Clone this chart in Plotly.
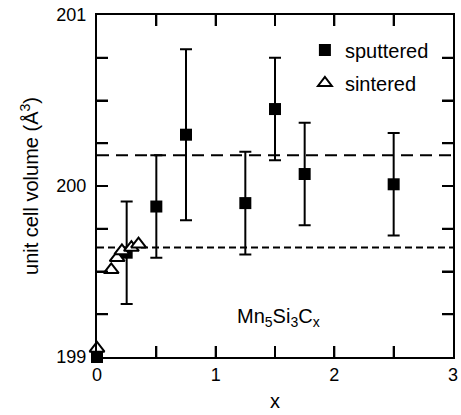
import plotly.graph_objects as go

# Data
sput_x = [0, 0.25, 0.5, 0.75, 1.25, 1.5, 1.75, 2.5]
sput_y = [199.0, 199.61, 199.88, 200.30, 199.90, 200.45, 200.07, 200.01]
sput_err = [0, 0.30, 0.30, 0.50, 0.30, 0.30, 0.30, 0.30]

sint_x = [0, 0.12, 0.17, 0.21, 0.29, 0.35]
sint_y = [199.05, 199.51, 199.58, 199.62, 199.64, 199.66]

line_long_y = 200.18
line_short_y = 199.64
x_span = [0, 3]

x_range = [0, 3]
y_range = [199, 201]
x_tickvals = [0, 0.5, 1, 1.5, 2, 2.5, 3]
x_ticktext = ["0", "", "1", "", "2", "", "3"]
y_tickvals = [199, 199.25, 199.5, 199.75, 200, 200.25, 200.5, 200.75, 201]
y_ticktext = ["199\u00a0", "", "", "", "200\u00a0", "", "", "", "201\u00a0"]

FONT = "Liberation Sans, Arial, Helvetica, sans-serif"
TICKLEN = 11

fig = go.Figure()

fig.add_trace(go.Scatter(x=x_span, y=[line_long_y] * 2, mode="lines",
                         line=dict(color="black", width=2, dash="12px,7px"),
                         showlegend=False, hoverinfo="skip"))
fig.add_trace(go.Scatter(x=x_span, y=[line_short_y] * 2, mode="lines",
                         line=dict(color="black", width=2, dash="7px,4px"),
                         showlegend=False, hoverinfo="skip"))

fig.add_trace(go.Scatter(
    x=sput_x, y=sput_y, mode="markers",
    marker=dict(symbol="square", size=12, color="black"),
    error_y=dict(type="data", array=sput_err, visible=True, color="black",
                 thickness=2, width=6),
    showlegend=False, cliponaxis=False))

fig.add_trace(go.Scatter(
    x=sint_x, y=sint_y, mode="markers",
    marker=dict(symbol="triangle-up", size=13, color="white",
                line=dict(color="black", width=2)),
    showlegend=False, cliponaxis=False))

# legend-only entries
fig.add_trace(go.Scatter(x=[None], y=[None], mode="markers", name="sputtered",
                         legendgroup="a",
                         marker=dict(symbol="square", size=12, color="black")))
fig.add_trace(go.Scatter(x=[None], y=[None], mode="markers", name="sintered",
                         legendgroup="b",
                         marker=dict(symbol="triangle-up", size=13, color="white",
                                     line=dict(color="black", width=2))))

fig.add_annotation(x=1.53, y=199.23, xref="x", yref="y",
                   text="Mn<sub>5</sub>Si<sub>3</sub>C<sub>x</sub>",
                   showarrow=False, font=dict(size=20, color="black", family=FONT))

# inward tick marks on all four sides, placed at the tick values
tick_line = dict(color="black", width=2)
for v in x_tickvals:
    if x_range[0] < v < x_range[1]:
        fig.add_shape(type="line", xref="x", yref="y", x0=v, x1=v,
                      ysizemode="pixel", yanchor=y_range[0], y0=0, y1=TICKLEN,
                      line=tick_line, layer="above")
        fig.add_shape(type="line", xref="x", yref="y", x0=v, x1=v,
                      ysizemode="pixel", yanchor=y_range[1], y0=0, y1=-TICKLEN,
                      line=tick_line, layer="above")
for v in y_tickvals:
    if y_range[0] < v < y_range[1]:
        fig.add_shape(type="line", xref="x", yref="y", y0=v, y1=v,
                      xsizemode="pixel", xanchor=x_range[0], x0=0, x1=TICKLEN,
                      line=tick_line, layer="above")
        fig.add_shape(type="line", xref="x", yref="y", y0=v, y1=v,
                      xsizemode="pixel", xanchor=x_range[1], x0=0, x1=-TICKLEN,
                      line=tick_line, layer="above")

fig.update_layout(
    width=461, height=415,
    margin=dict(l=97, r=3, t=15, b=58),
    plot_bgcolor="white", paper_bgcolor="white",
    font=dict(family=FONT, color="black"),
    xaxis=dict(range=x_range, tickmode="array", tickvals=x_tickvals,
               ticktext=x_ticktext, showgrid=False, zeroline=False,
               showline=True, linecolor="black", linewidth=2, mirror="ticks",
               ticks="inside", ticklen=TICKLEN, tickwidth=2, tickcolor="black",
               tickfont=dict(size=18, color="black"), ticklabeloverflow="allow",
               title=dict(text="x", font=dict(size=20), standoff=10)),
    yaxis=dict(range=y_range, tickmode="array", tickvals=y_tickvals,
               ticktext=y_ticktext, showgrid=False, zeroline=False,
               showline=True, linecolor="black", linewidth=2, mirror="ticks",
               ticks="inside", ticklen=TICKLEN, tickwidth=2, tickcolor="black",
               tickfont=dict(size=18, color="black"),
               title=dict(text="unit cell volume (Å<sup>3</sup>)",
                          font=dict(size=20), standoff=12)),
    legend=dict(x=0.584, y=0.955, xanchor="left", yanchor="top",
                bgcolor="rgba(0,0,0,0)", font=dict(size=20),
                itemsizing="constant", traceorder="grouped", tracegroupgap=4),
)

fig.write_html("out.html")
